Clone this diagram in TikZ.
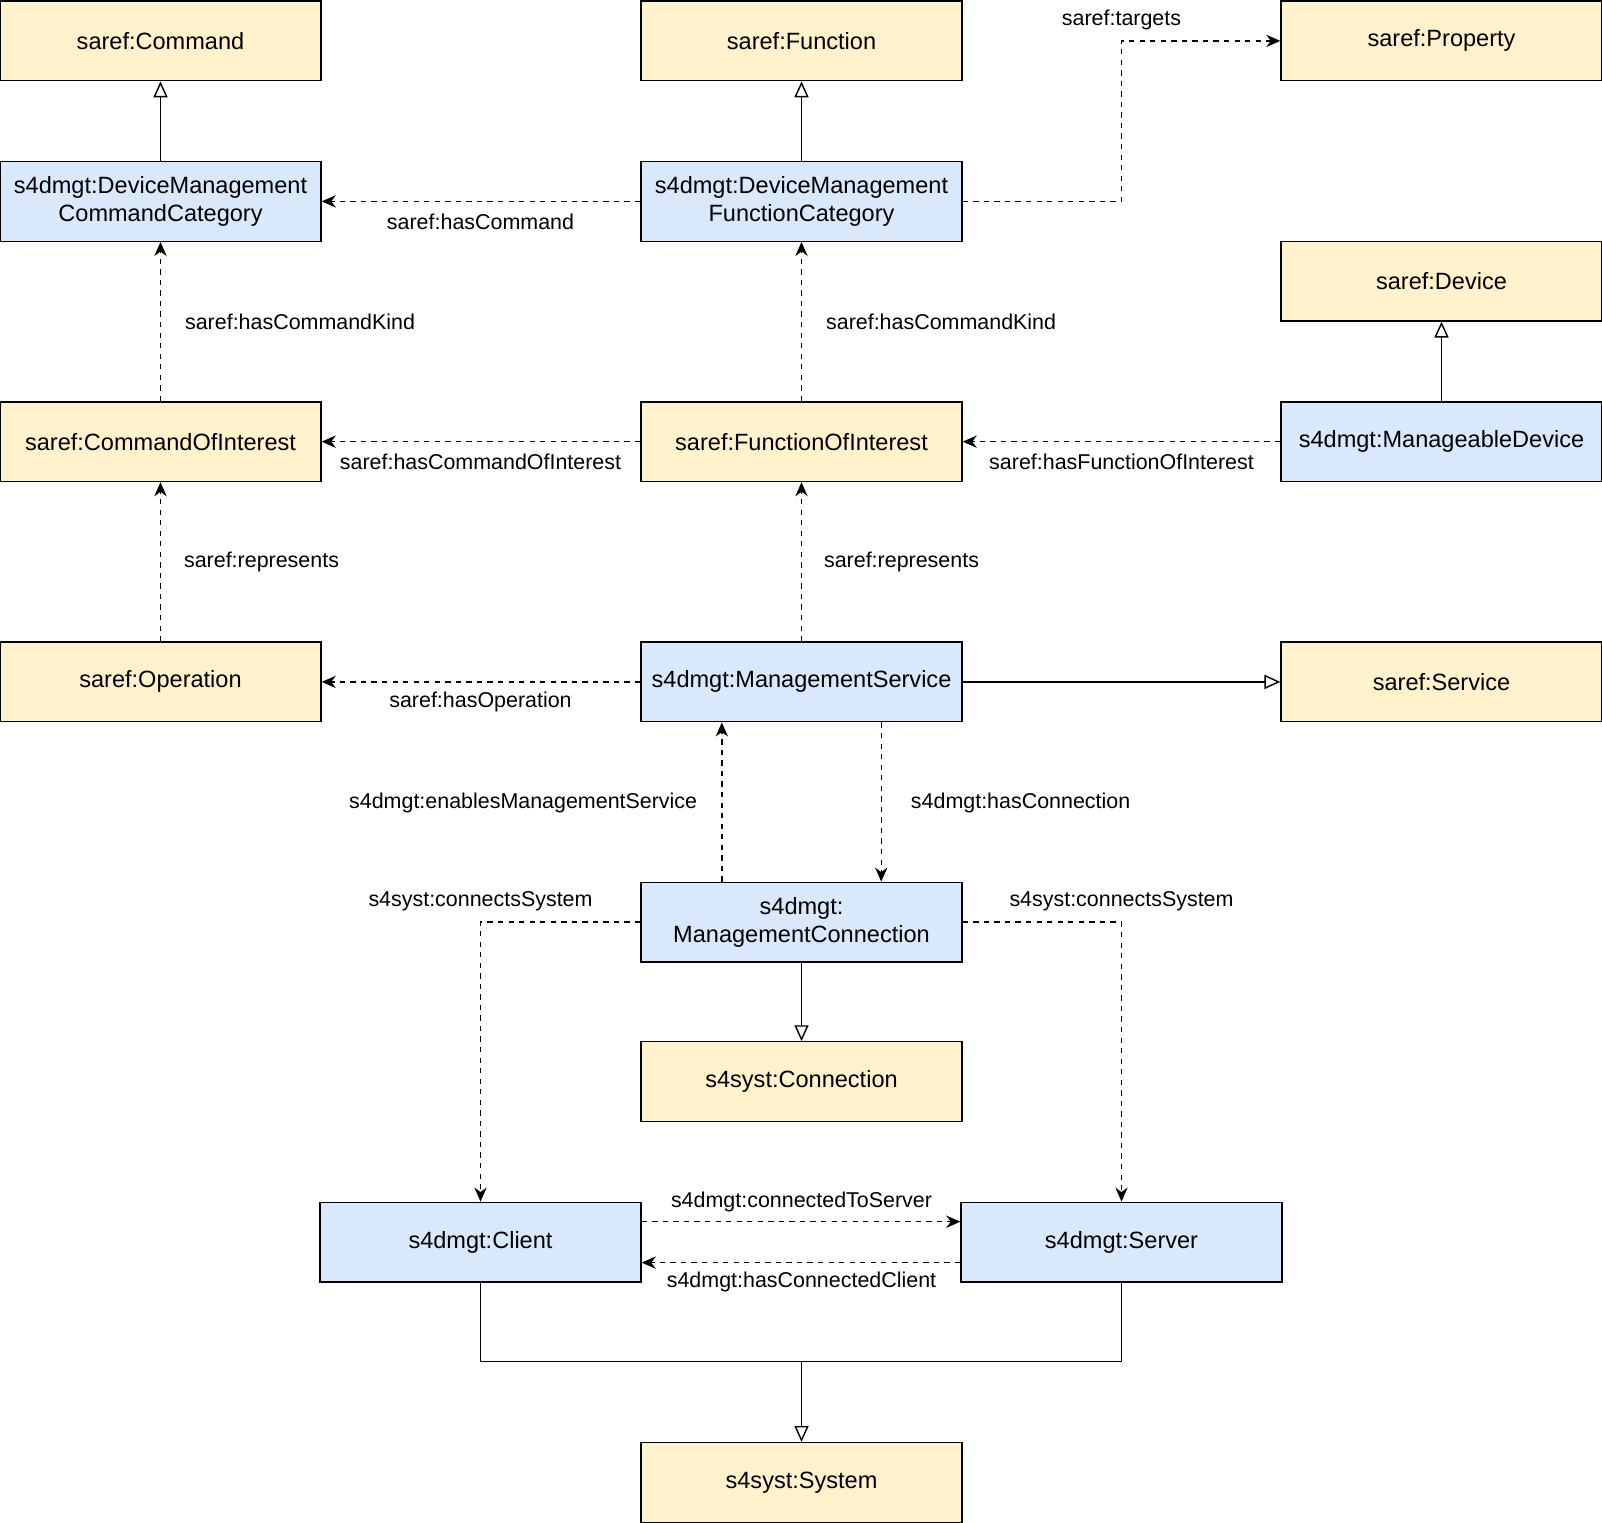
\documentclass[tikz,border=0pt]{standalone}
\usepackage{fontspec}
\setmainfont{Liberation Sans}
\usetikzlibrary{arrows.meta,positioning}

\definecolor{saref}{HTML}{FFF2CC}
\definecolor{sdmgt}{HTML}{DAE8FC}

\tikzset{
  cls/.style={draw=black, thick, minimum width=6.42cm, minimum height=1.594cm,
    align=center, inner sep=2pt, font=\fontsize{13.4}{16}\selectfont},
  ext/.style={cls, fill=saref},
  own/.style={cls, fill=sdmgt},
  prop/.style={thick, dashed, -{Stealth[length=8pt,width=7pt]}},
  isa/.style={thick, -{Triangle[open,fill=white,length=9pt,width=8pt]}},
  lbl/.style={font=\fontsize{12.2}{14}\selectfont, inner sep=1pt},
}

\begin{document}
\begin{tikzpicture}[x=0.02044cm, y=-0.02044cm]

    %% Background
    \useasboundingbox (0,0) rectangle (1567,1489);

    % Classes
    \node[ext] (cmd)  at (157,40)   {saref:Command};
    \node[ext] (fun)  at (784,40)   {saref:Function};
    \node[ext] (prp)  at (1410,40)  {saref:Property};
    \node[own] (cmdc) at (157,197)  {s4dmgt:DeviceManagement\\CommandCategory};
    \node[own] (func) at (784,197)  {s4dmgt:DeviceManagement\\FunctionCategory};
    \node[ext] (dev)  at (1410,275) {saref:Device};
    \node[ext] (coi)  at (157,432)  {saref:CommandOfInterest};
    \node[ext] (foi)  at (784,432)  {saref:FunctionOfInterest};
    \node[own] (mdev) at (1410,432) {s4dmgt:ManageableDevice};
    \node[ext] (op)   at (157,667)  {saref:Operation};
    \node[own] (ms)   at (784,667)  {s4dmgt:ManagementService};
    \node[ext] (srv)  at (1410,667) {saref:Service};
    \node[own] (mc)   at (784,902)  {s4dmgt:\\ManagementConnection};
    \node[ext] (con)  at (784,1058) {s4syst:Connection};
    \node[own] (cl)   at (470,1215) {s4dmgt:Client};
    \node[own] (sv)   at (1097,1215) {s4dmgt:Server};
    \node[ext] (sys)  at (784,1450) {s4syst:System};

    % Subclass links
    \draw[isa] (cmdc) -- (cmd);
    \draw[isa] (func) -- (fun);
    \draw[isa] (mdev) -- (dev);
    \draw[isa] (ms) -- (srv);
    \draw[isa] (mc) -- (con);
    \coordinate (join) at (784,1332);
    \draw[thick] (cl.south) |- (join) -| (sv.south);
    \draw[isa] (join) -- (sys);

    % Properties
    \draw[prop] (func.east) -| (1097,40) -- (prp.west);
    \node[lbl] at (1097,20) {saref:targets};
    \draw[prop] (func) -- (cmdc);
    \node[lbl] at (470,217) {saref:hasCommand};
    \draw[prop] (coi) -- (cmdc);
    \node[lbl, anchor=west] at (179,315) {saref:hasCommandKind};
    \draw[prop] (foi) -- (func);
    \node[lbl, anchor=west] at (806,315) {saref:hasCommandKind};
    \draw[prop] (foi) -- (coi);
    \node[lbl] at (470,452) {saref:hasCommandOfInterest};
    \draw[prop] (mdev) -- (foi);
    \node[lbl] at (1097,452) {saref:hasFunctionOfInterest};
    \draw[prop] (op) -- (coi);
    \node[lbl, anchor=west] at (178,550) {saref:represents};
    \draw[prop] (ms) -- (foi);
    \node[lbl, anchor=west] at (804,550) {saref:represents};
    \draw[prop] (ms) -- (op);
    \node[lbl] at (470,687) {saref:hasOperation};
    \draw[prop] ([xshift=-1.594cm]mc.north) -- ([xshift=-1.594cm]ms.south);
    \node[lbl, anchor=east] at (684,785) {s4dmgt:enablesManagementService};
    \draw[prop] ([xshift=1.594cm]ms.south) -- ([xshift=1.594cm]mc.north);
    \node[lbl, anchor=west] at (889,785) {s4dmgt:hasConnection};
    \draw[prop] (mc.west) -| (cl.north);
    \node[lbl] at (470,882) {s4syst:connectsSystem};
    \draw[prop] (mc.east) -| (sv.north);
    \node[lbl] at (1097,882) {s4syst:connectsSystem};
    \draw[prop] ([yshift=0.409cm]cl.east) -- ([yshift=0.409cm]sv.west);
    \node[lbl] at (784,1176) {s4dmgt:connectedToServer};
    \draw[prop] ([yshift=-0.409cm]sv.west) -- ([yshift=-0.409cm]cl.east);
    \node[lbl] at (784,1254) {s4dmgt:hasConnectedClient};

\end{tikzpicture}
\end{document}
